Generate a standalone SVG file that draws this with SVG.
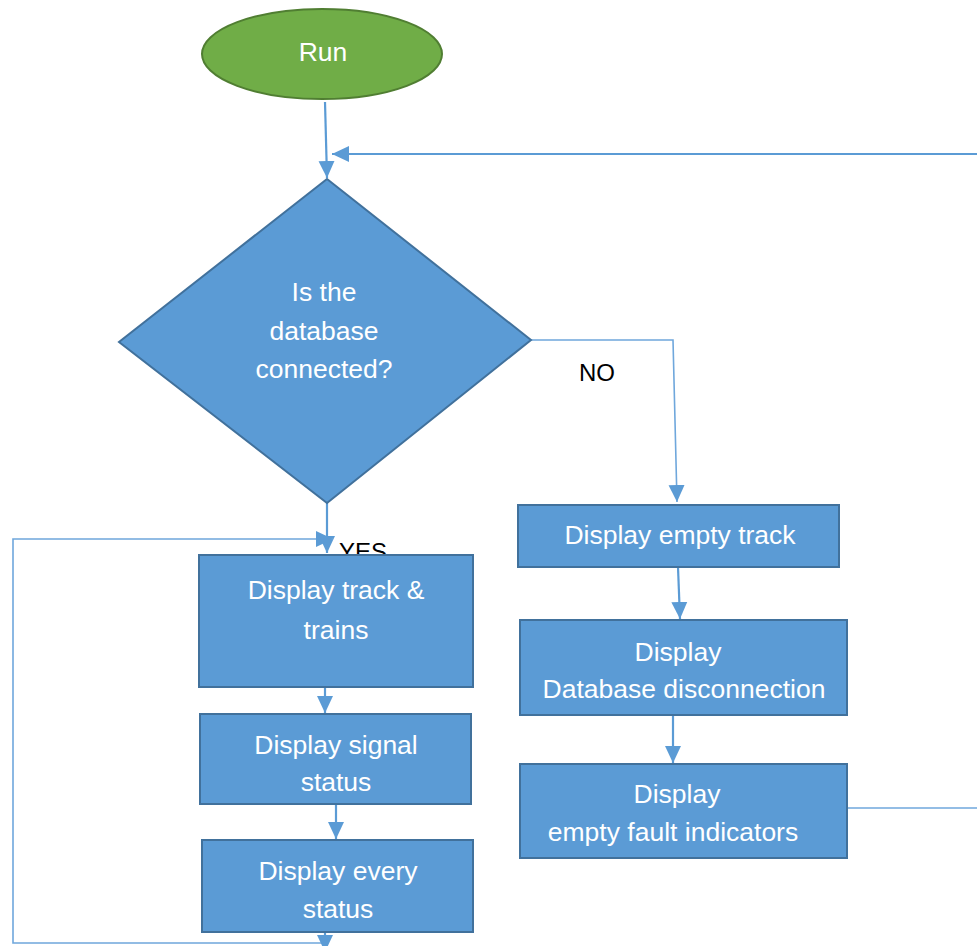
<svg xmlns="http://www.w3.org/2000/svg" width="977" height="946" viewBox="0 0 977 946">
<style>
.box{fill:#5B9BD5;stroke:#41719C;stroke-width:2}
.t{font-family:"Liberation Sans",Arial,sans-serif;font-size:26.5px;fill:#ffffff;text-anchor:middle}
.lbl{font-family:"Liberation Sans",Arial,sans-serif;font-size:24px;fill:#000000}
.c{fill:none;stroke:#5B9BD5;stroke-width:2.2}
.thin{fill:none;stroke:#6FA7DC;stroke-width:1.6}
</style>
<defs>
<marker id="ah" markerUnits="userSpaceOnUse" markerWidth="18" markerHeight="18" refX="17" refY="8" orient="auto" viewBox="0 0 18 16">
<path d="M0,0 L17,8 L0,16 z" fill="#5B9BD5"/>
</marker>
</defs>
<text class="lbl" x="339" y="560">YES</text>
<g id="connectors">
<path class="c" d="M325,102 L327,178" marker-end="url(#ah)"/>
<path class="c" d="M977,154 L332,154" marker-end="url(#ah)"/>
<path class="thin" d="M531,340 L673,340 L677,502" marker-end="url(#ah)"/>
<path class="c" d="M327,503 L327,553" marker-end="url(#ah)"/>
<path class="thin" d="M325,943 L13,943 L13,539 L333,539" marker-end="url(#ah)"/>
<path class="c" d="M325,687 L325,713" marker-end="url(#ah)"/>
<path class="c" d="M336,804 L336,839" marker-end="url(#ah)"/>
<path class="c" d="M325,932 L325,952" marker-end="url(#ah)"/>
<path class="c" d="M678,567 L680,619" marker-end="url(#ah)"/>
<path class="c" d="M673,715 L673,763" marker-end="url(#ah)"/>
<path class="thin" d="M847,808 L977,808"/>
</g>
<g id="run">
<ellipse cx="322" cy="54" rx="120" ry="45" fill="#70AD47" stroke="#507E32" stroke-width="2"/>
<text class="t" x="323" y="61" font-size="24">Run</text>
</g>
<g id="decision">
<polygon class="box" points="327,179 531,340 327,503 119,342"/>
<text class="t" x="324" y="301">Is the</text>
<text class="t" x="324" y="340">database</text>
<text class="t" x="324" y="378">connected?</text>
</g>
<text class="lbl" x="579" y="381">NO</text>
<g id="track">
<rect class="box" x="199" y="555" width="274" height="132"/>
<text class="t" x="336" y="599">Display track &amp;</text>
<text class="t" x="336" y="639">trains</text>
</g>
<g id="signal">
<rect class="box" x="200" y="714" width="271" height="90"/>
<text class="t" x="336" y="754">Display signal</text>
<text class="t" x="336" y="791">status</text>
</g>
<g id="every">
<rect class="box" x="202" y="840" width="271" height="92"/>
<text class="t" x="338" y="880">Display every</text>
<text class="t" x="338" y="918">status</text>
</g>
<g id="emptytrack">
<rect class="box" x="518" y="505" width="321" height="62"/>
<text class="t" x="680" y="544">Display empty track</text>
</g>
<g id="disconnect">
<rect class="box" x="520" y="620" width="327" height="95"/>
<text class="t" x="678" y="661">Display</text>
<text class="t" x="684" y="698">Database disconnection</text>
</g>
<g id="fault">
<rect class="box" x="520" y="764" width="327" height="94"/>
<text class="t" x="677" y="803">Display</text>
<text class="t" x="673" y="841">empty fault indicators</text>
</g>
</svg>
